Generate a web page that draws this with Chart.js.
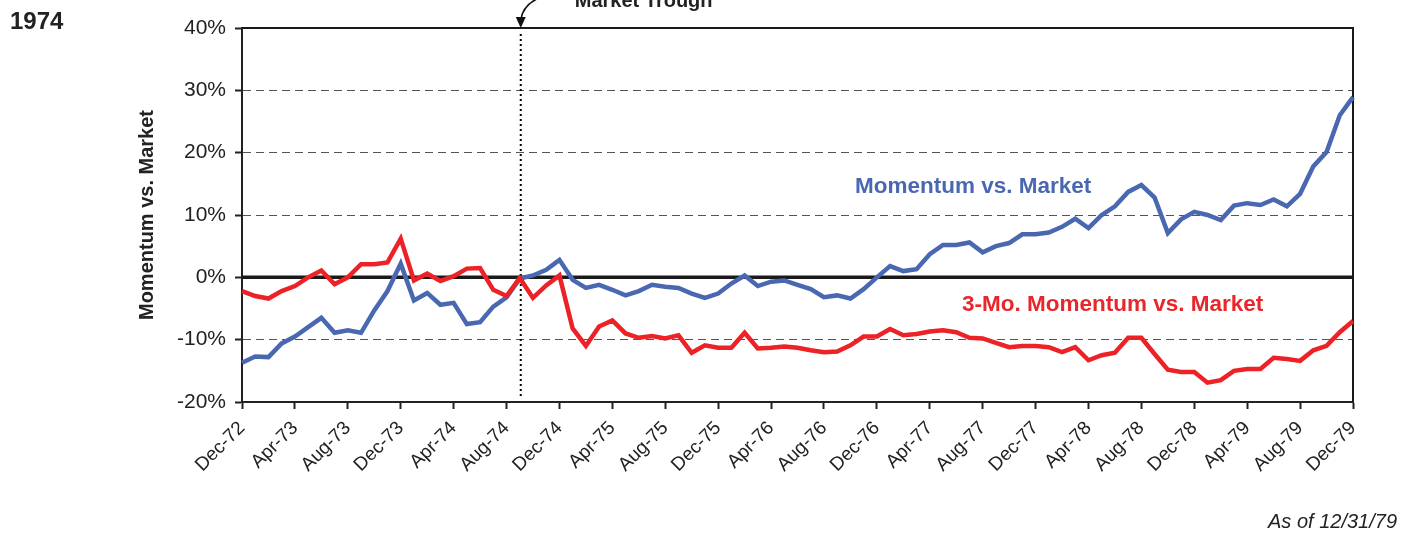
<!DOCTYPE html>
<html>
<head>
<meta charset="utf-8">
<script src="https://cdn.jsdelivr.net/npm/chart.js@4"></script>
<style>
  html, body { margin: 0; padding: 0; background: #fff; }
  #wrap { position: relative; width: 1415px; height: 535px; }
</style>
</head>
<body>
<div id="wrap"><canvas id="chart" width="1415" height="535"></canvas></div>
<script>
// ------------------ Data (monthly, Dec-72 .. Dec-79) ------------------
const months = [
  "Dec-72",
  "Jan-73","Feb-73","Mar-73","Apr-73","May-73","Jun-73","Jul-73","Aug-73","Sep-73","Oct-73","Nov-73","Dec-73",
  "Jan-74","Feb-74","Mar-74","Apr-74","May-74","Jun-74","Jul-74","Aug-74","Sep-74","Oct-74","Nov-74","Dec-74",
  "Jan-75","Feb-75","Mar-75","Apr-75","May-75","Jun-75","Jul-75","Aug-75","Sep-75","Oct-75","Nov-75","Dec-75",
  "Jan-76","Feb-76","Mar-76","Apr-76","May-76","Jun-76","Jul-76","Aug-76","Sep-76","Oct-76","Nov-76","Dec-76",
  "Jan-77","Feb-77","Mar-77","Apr-77","May-77","Jun-77","Jul-77","Aug-77","Sep-77","Oct-77","Nov-77","Dec-77",
  "Jan-78","Feb-78","Mar-78","Apr-78","May-78","Jun-78","Jul-78","Aug-78","Sep-78","Oct-78","Nov-78","Dec-78",
  "Jan-79","Feb-79","Mar-79","Apr-79","May-79","Jun-79","Jul-79","Aug-79","Sep-79","Oct-79","Nov-79","Dec-79"
];

// tick labels shown on the x axis
const tickLabels = ["Dec-72","Apr-73","Aug-73","Dec-73","Apr-74","Aug-74","Dec-74","Apr-75","Aug-75","Dec-75",
  "Apr-76","Aug-76","Dec-76","Apr-77","Aug-77","Dec-77","Apr-78","Aug-78","Dec-78","Apr-79","Aug-79","Dec-79"];

// Momentum vs. Market (%)
const momentum = [
  -13.7,
  -12.7,-12.8,-10.6,-9.5,-8.0,-6.5,-8.9,-8.5,-8.9,-5.3,-2.2,2.2,
  -3.7,-2.5,-4.4,-4.1,-7.5,-7.2,-4.7,-3.2,-0.2,0.3,1.2,2.8,
  -0.4,-1.7,-1.2,-2.0,-2.9,-2.2,-1.2,-1.5,-1.7,-2.6,-3.3,-2.6,
  -1.0,0.3,-1.4,-0.7,-0.5,-1.2,-1.9,-3.2,-2.9,-3.4,-1.9,0.0,
  1.8,1.0,1.3,3.7,5.2,5.2,5.6,4.0,5.0,5.5,6.9,6.9,
  7.2,8.1,9.4,7.9,10.0,11.4,13.7,14.8,12.8,7.1,9.3,10.5,
  10.0,9.2,11.5,11.9,11.6,12.5,11.4,13.4,17.8,20.1,26.0,28.9
];

// 3-Mo. Momentum vs. Market (%)
const momentum3m = [
  -2.2,
  -3.0,-3.4,-2.2,-1.4,0.0,1.1,-1.1,0.0,2.1,2.1,2.4,6.2,
  -0.5,0.6,-0.6,0.2,1.4,1.5,-2.0,-3.0,-0.1,-3.3,-1.3,0.3,
  -8.2,-11.0,-7.9,-6.9,-9.0,-9.7,-9.4,-9.8,-9.3,-12.1,-10.9,-11.3,
  -11.3,-8.9,-11.4,-11.3,-11.1,-11.3,-11.7,-12.0,-11.9,-10.9,-9.5,-9.5,
  -8.3,-9.3,-9.1,-8.7,-8.5,-8.8,-9.7,-9.8,-10.5,-11.2,-11.0,-11.0,
  -11.2,-12.0,-11.2,-13.3,-12.5,-12.1,-9.7,-9.7,-12.3,-14.8,-15.2,-15.2,
  -16.9,-16.5,-15.0,-14.7,-14.7,-12.9,-13.1,-13.4,-11.7,-11.0,-8.8,-7.0
];

const troughMonth = "Sep-74";

// ------------------ Extra drawing ------------------
const FONT = "'Liberation Sans', Arial, sans-serif";

const decorPlugin = {
  id: "decor",
  beforeDatasetsDraw(chart) {
    const { ctx, chartArea: a, scales: { x, y } } = chart;
    ctx.save();
    // zero line
    ctx.strokeStyle = "#1a1a1a";
    ctx.lineWidth = 3.5;
    ctx.beginPath();
    ctx.moveTo(a.left, y.getPixelForValue(0));
    ctx.lineTo(a.right, y.getPixelForValue(0));
    ctx.stroke();
    // top and right border
    ctx.lineWidth = 2;
    ctx.beginPath();
    ctx.moveTo(a.left, a.top);
    ctx.lineTo(a.right, a.top);
    ctx.lineTo(a.right, a.bottom);
    ctx.stroke();
    // market trough dotted line
    const tx = x.getPixelForValue(months.indexOf(troughMonth)) + 1;
    ctx.setLineDash([2, 3]);
    ctx.lineWidth = 2;
    ctx.strokeStyle = "#000";
    ctx.beginPath();
    ctx.moveTo(tx, a.top + 6);
    ctx.lineTo(tx, a.bottom - 6);
    ctx.stroke();
    ctx.restore();
  },
  afterDraw(chart) {
    const { ctx, chartArea: a, scales: { x } } = chart;
    ctx.save();
    ctx.fillStyle = "#222";
    ctx.font = "bold 24px " + FONT;
    ctx.textBaseline = "alphabetic";
    ctx.fillText("1974", 10, 29);

    // y axis title
    ctx.save();
    ctx.translate(153, 215);
    ctx.rotate(-Math.PI / 2);
    ctx.textAlign = "center";
    ctx.font = "bold 20px " + FONT;
    ctx.fillText("Momentum vs. Market", 0, 0);
    ctx.restore();

    // market trough label + arrow
    const tx = x.getPixelForValue(months.indexOf(troughMonth)) + 1;
    ctx.font = "bold 20px " + FONT;
    ctx.textAlign = "left";
    ctx.fillText("Market Trough", tx + 54, 7);
    ctx.strokeStyle = "#111";
    ctx.lineWidth = 1.6;
    ctx.beginPath();
    ctx.moveTo(tx + 16, -1);
    ctx.quadraticCurveTo(tx + 2, 6, tx, a.top - 8);
    ctx.stroke();
    ctx.fillStyle = "#111";
    ctx.beginPath();
    ctx.moveTo(tx, a.top);
    ctx.lineTo(tx - 5, a.top - 11);
    ctx.lineTo(tx + 5, a.top - 11);
    ctx.closePath();
    ctx.fill();

    // series labels
    ctx.font = "bold 22.5px " + FONT;
    ctx.fillStyle = "#4a68b2";
    ctx.fillText("Momentum vs. Market", 855, 193);
    ctx.fillStyle = "#e8262b";
    ctx.fillText("3-Mo. Momentum vs. Market", 962, 311);

    // footnote
    ctx.fillStyle = "#222";
    ctx.font = "italic 20px " + FONT;
    ctx.textAlign = "right";
    ctx.fillText("As of 12/31/79", 1397, 528);
    ctx.restore();
  }
};

// ------------------ Chart ------------------
new Chart(document.getElementById("chart"), {
  type: "line",
  data: {
    labels: months,
    datasets: [{
      label: "3-Mo. Momentum vs. Market",
      data: momentum3m,
      borderColor: "#ec2227",
      borderWidth: 4.5,
      pointRadius: 0,
      tension: 0,
      fill: false
    }, {
      label: "Momentum vs. Market",
      data: momentum,
      borderColor: "#4a68b2",
      borderWidth: 4.5,
      pointRadius: 0,
      tension: 0,
      fill: false
    }]
  },
  options: {
    responsive: false,
    animation: false,
    layout: { padding: { top: 28, right: 62, left: 0, bottom: 0 } },
    plugins: {
      legend: { display: false },
      tooltip: { enabled: false }
    },
    scales: {
      x: {
        offset: false,
        afterFit(scale) { scale.height = 133; },
        grid: {
          drawOnChartArea: false,
          drawTicks: true,
          tickLength: 7,
          tickWidth: 2,
          tickColor: "#222"
        },
        border: { display: true, color: "#222", width: 2 },
        ticks: {
          autoSkip: false,
          maxRotation: 45,
          minRotation: 45,
          padding: 8,
          color: "#222",
          font: { family: FONT, size: 19 },
          callback(val) {
            const lab = months[val];
            return tickLabels.includes(lab) ? lab : null;
          }
        }
      },
      y: {
        min: -20,
        max: 40,
        afterFit(scale) { scale.width = 242; },
        grid: {
          color: ctx => (ctx.tick.value === 0 || ctx.tick.value === 40 || ctx.tick.value === -20) ? "rgba(0,0,0,0)" : "#555",
          lineWidth: 1,
          drawTicks: true,
          tickLength: 7,
          tickColor: "#222",
          tickWidth: 2
        },
        border: { display: true, color: "#222", width: 2, dash: [8, 5] },
        ticks: {
          stepSize: 10,
          padding: 9,
          color: "#222",
          font: { family: FONT, size: 21 },
          callback: v => v + "%"
        }
      }
    }
  },
  plugins: [decorPlugin]
});
</script>
</body>
</html>
